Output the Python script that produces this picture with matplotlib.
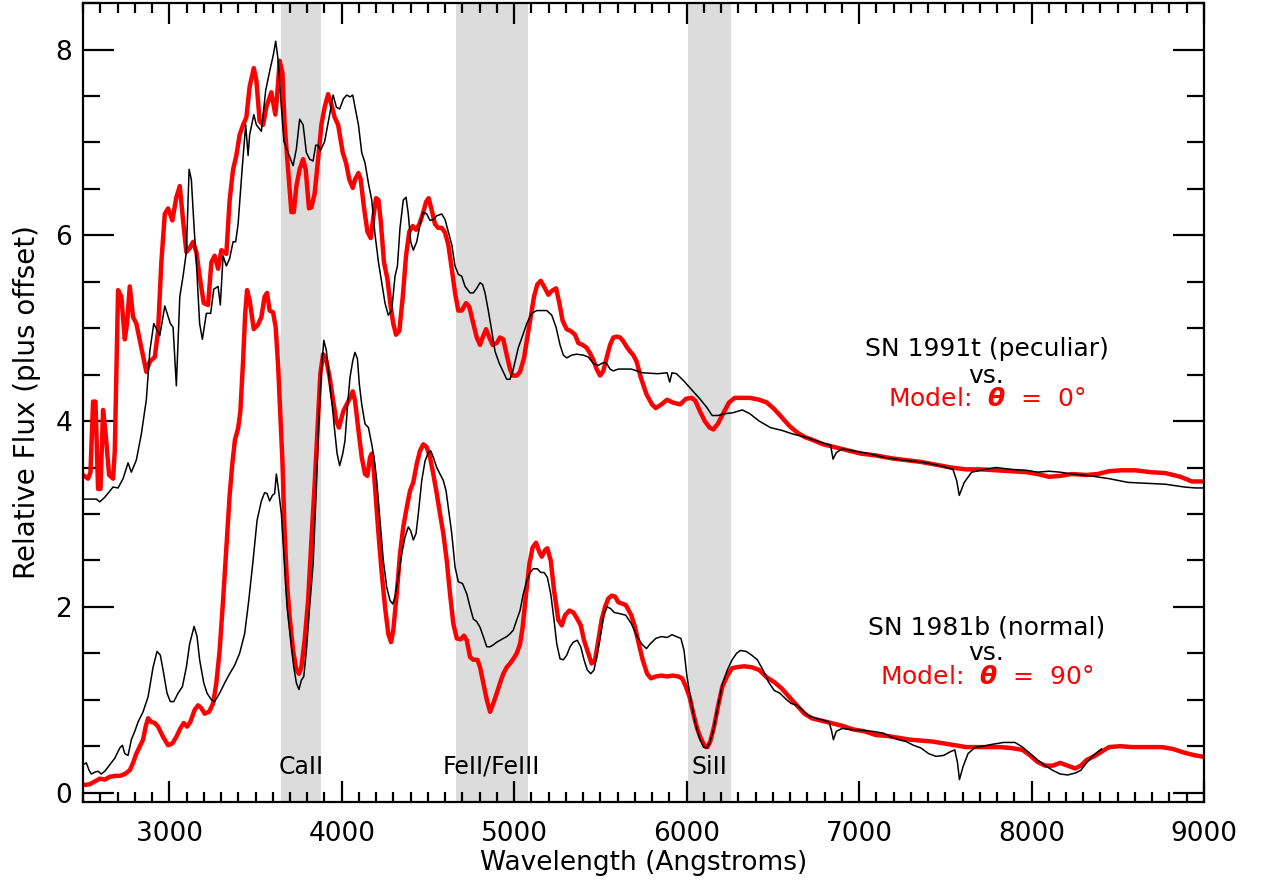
import matplotlib
matplotlib.use('agg')
import matplotlib.pyplot as plt
from matplotlib.ticker import MultipleLocator

plt.rcParams['font.family'] = ['DejaVu Sans']

# SN 1991t (peculiar) - observed spectrum, upper pair
top_obs_wl = [2500, 2577, 2597, 2626, 2674, 2703, 2732, 2761, 2780, 2809, 2838, 2867, 2887, 2910,
              2945, 2974, 3006, 3022, 3041, 3061, 3080, 3099, 3115, 3128, 3144, 3157, 3176, 3192,
              3215, 3240, 3258, 3283, 3296, 3312, 3331, 3350, 3370, 3385, 3399, 3424, 3443, 3457,
              3466, 3490, 3505, 3534, 3559, 3586, 3602, 3617, 3631, 3650, 3665, 3689, 3718, 3737,
              3756, 3776, 3795, 3814, 3834, 3849, 3863, 3876, 3901, 3930, 3950, 3969, 3988, 4010,
              4029, 4048, 4064, 4077, 4097, 4116, 4135, 4155, 4174, 4193, 4213, 4232, 4251, 4270,
              4290, 4309, 4323, 4338, 4357, 4373, 4386, 4400, 4415, 4435, 4454, 4473, 4493, 4512,
              4531, 4551, 4580, 4599, 4618, 4638, 4657, 4676, 4696, 4715, 4744, 4763, 4783, 4802,
              4817, 4831, 4850, 4870, 4889, 4914, 4937, 4957, 4976, 4995, 5024, 5049, 5073, 5102,
              5131, 5160, 5189, 5218, 5243, 5266, 5285, 5305, 5333, 5362, 5401, 5430, 5459, 5488,
              5517, 5536, 5556, 5575, 5604, 5679, 5745, 5832, 5887, 5902, 5915, 5941, 5985, 6028,
              6072, 6116, 6148, 6181, 6225, 6268, 6323, 6366, 6421, 6486, 6552, 6617, 6683, 6748,
              6814, 6835, 6849, 6868, 6901, 6966, 7054, 7141, 7250, 7359, 7468, 7544, 7566, 7581,
              7610, 7653, 7730, 7795, 7883, 7970, 8035, 8101, 8166, 8232, 8341, 8450, 8559, 8668,
              8777, 8886, 8951, 9017]
top_obs_flux = [3.16, 3.16, 3.13, 3.18, 3.29, 3.28, 3.38, 3.55, 3.45, 3.58, 3.86, 4.23, 4.75, 5.05,
                4.92, 5.24, 5.05, 5.01, 4.38, 5.34, 5.56, 5.82, 6.71, 6.60, 6.08, 5.71, 5.05, 4.88,
                5.16, 5.16, 5.42, 5.45, 5.25, 5.78, 5.67, 5.75, 5.93, 5.93, 6.12, 6.75, 7.19, 6.86,
                7.08, 7.30, 7.19, 7.12, 7.56, 7.80, 7.93, 8.09, 7.89, 7.38, 7.01, 6.89, 6.75, 6.93,
                7.25, 7.19, 6.89, 6.82, 6.80, 6.97, 6.97, 6.91, 7.01, 7.30, 7.51, 7.38, 7.36, 7.47,
                7.51, 7.49, 7.51, 7.38, 7.19, 6.89, 6.78, 6.56, 6.38, 6.01, 5.71, 5.49, 5.27, 5.14,
                5.19, 5.56, 5.67, 6.08, 6.38, 6.41, 6.23, 5.93, 5.84, 5.93, 6.12, 6.25, 6.23, 6.16,
                6.17, 6.21, 6.23, 6.17, 6.04, 5.90, 5.67, 5.58, 5.56, 5.45, 5.38, 5.38, 5.43, 5.49,
                5.47, 5.38, 5.19, 4.97, 4.75, 4.62, 4.53, 4.45, 4.45, 4.56, 4.79, 4.92, 5.05, 5.16,
                5.19, 5.19, 5.19, 5.14, 5.01, 4.82, 4.71, 4.68, 4.71, 4.72, 4.71, 4.69, 4.62, 4.60,
                4.63, 4.62, 4.56, 4.54, 4.56, 4.56, 4.52, 4.51, 4.52, 4.42, 4.52, 4.51, 4.43, 4.34,
                4.25, 4.15, 4.06, 4.06, 4.08, 4.09, 4.12, 4.08, 4.00, 3.93, 3.90, 3.86, 3.83, 3.79,
                3.75, 3.74, 3.59, 3.66, 3.70, 3.68, 3.65, 3.61, 3.58, 3.56, 3.52, 3.48, 3.36, 3.20,
                3.34, 3.45, 3.48, 3.50, 3.48, 3.47, 3.45, 3.46, 3.45, 3.43, 3.41, 3.38, 3.34, 3.33,
                3.32, 3.29, 3.28, 3.28]

# model, theta = 0 deg
top_mod_wl = [2500, 2529, 2543, 2558, 2572, 2587, 2601, 2616, 2631, 2651, 2674, 2684, 2703, 2722,
              2742, 2755, 2771, 2790, 2809, 2838, 2867, 2887, 2916, 2935, 2954, 2974, 2993, 3018,
              3041, 3061, 3080, 3099, 3118, 3138, 3157, 3176, 3200, 3225, 3244, 3263, 3283, 3302,
              3331, 3350, 3370, 3389, 3408, 3428, 3447, 3466, 3490, 3505, 3524, 3544, 3563, 3592,
              3615, 3625, 3640, 3656, 3669, 3689, 3708, 3722, 3737, 3756, 3776, 3791, 3810, 3824,
              3843, 3863, 3882, 3901, 3921, 3940, 3959, 3979, 4006, 4025, 4044, 4064, 4077, 4097,
              4110, 4129, 4149, 4168, 4183, 4199, 4213, 4226, 4245, 4265, 4284, 4299, 4315, 4334,
              4354, 4373, 4392, 4412, 4431, 4450, 4470, 4489, 4504, 4522, 4541, 4560, 4580, 4599,
              4618, 4638, 4657, 4676, 4696, 4721, 4740, 4759, 4783, 4802, 4817, 4837, 4856, 4875,
              4899, 4918, 4937, 4957, 4976, 4991, 5015, 5034, 5057, 5076, 5096, 5115, 5134, 5154,
              5173, 5198, 5217, 5243, 5262, 5281, 5304, 5328, 5353, 5372, 5397, 5420, 5440, 5459,
              5478, 5498, 5517, 5536, 5556, 5575, 5594, 5614, 5633, 5652, 5672, 5691, 5710, 5726,
              5734, 5767, 5799, 5821, 5854, 5887, 5919, 5963, 5996, 6028, 6050, 6076, 6105, 6133,
              6155, 6181, 6214, 6246, 6279, 6323, 6366, 6421, 6465, 6508, 6552, 6595, 6639, 6683,
              6726, 6792, 6857, 6923, 7010, 7097, 7185, 7272, 7359, 7446, 7533, 7621, 7708, 7795,
              7883, 7970, 8035, 8101, 8166, 8232, 8319, 8384, 8450, 8515, 8602, 8690, 8777, 8864,
              8930, 9017]
top_mod_flux = [3.42, 3.38, 3.45, 4.21, 4.21, 3.27, 3.27, 4.12, 3.86, 3.42, 3.38, 3.68, 5.41, 5.34,
                4.88, 5.05, 5.45, 5.12, 5.05, 4.79, 4.53, 4.64, 4.69, 4.97, 5.71, 6.23, 6.29, 6.16,
                6.41, 6.53, 6.16, 5.82, 5.86, 5.93, 5.82, 5.56, 5.27, 5.25, 5.71, 5.78, 5.64, 5.84,
                5.80, 6.38, 6.71, 6.86, 7.08, 7.19, 7.27, 7.60, 7.80, 7.67, 7.23, 7.19, 7.38, 7.54,
                7.30, 7.49, 7.88, 7.75, 7.19, 6.71, 6.25, 6.25, 6.53, 6.71, 6.82, 6.71, 6.29, 6.30,
                6.45, 6.82, 7.19, 7.38, 7.52, 7.41, 7.27, 7.19, 6.89, 6.78, 6.60, 6.51, 6.60, 6.67,
                6.60, 6.30, 6.04, 5.97, 6.19, 6.40, 6.38, 6.16, 5.71, 5.53, 5.23, 5.05, 4.93, 4.97,
                5.34, 5.78, 6.04, 6.10, 6.06, 6.12, 6.23, 6.36, 6.40, 6.27, 6.12, 6.08, 6.08, 6.03,
                5.90, 5.64, 5.38, 5.19, 5.19, 5.27, 5.23, 5.08, 4.90, 4.82, 4.90, 4.99, 4.90, 4.82,
                4.84, 4.90, 4.88, 4.71, 4.56, 4.49, 4.49, 4.53, 4.68, 4.90, 5.12, 5.34, 5.47, 5.51,
                5.45, 5.36, 5.40, 5.43, 5.27, 5.08, 4.99, 4.97, 4.93, 4.84, 4.82, 4.79, 4.73, 4.66,
                4.56, 4.49, 4.54, 4.68, 4.82, 4.90, 4.91, 4.90, 4.86, 4.80, 4.75, 4.71, 4.64, 4.53,
                4.47, 4.29, 4.18, 4.14, 4.18, 4.23, 4.20, 4.18, 4.24, 4.25, 4.22, 4.11, 4.00, 3.93,
                3.91, 3.97, 4.09, 4.20, 4.25, 4.25, 4.25, 4.23, 4.20, 4.13, 4.04, 3.95, 3.88, 3.83,
                3.80, 3.75, 3.72, 3.69, 3.65, 3.63, 3.60, 3.58, 3.56, 3.53, 3.50, 3.48, 3.48, 3.47,
                3.46, 3.45, 3.43, 3.40, 3.41, 3.43, 3.42, 3.43, 3.46, 3.47, 3.47, 3.45, 3.44, 3.40,
                3.35, 3.35]

# SN 1981b (normal) - observed spectrum, lower pair
bot_obs_wl = [2500, 2519, 2535, 2548, 2568, 2587, 2606, 2626, 2655, 2684, 2713, 2728, 2742, 2761,
              2780, 2800, 2819, 2848, 2877, 2906, 2929, 2948, 2964, 2987, 3006, 3026, 3051, 3076,
              3099, 3118, 3144, 3161, 3176, 3200, 3219, 3244, 3263, 3292, 3321, 3350, 3379, 3408,
              3437, 3461, 3486, 3509, 3534, 3553, 3567, 3582, 3598, 3611, 3621, 3636, 3650, 3669,
              3683, 3702, 3722, 3737, 3752, 3766, 3780, 3795, 3814, 3834, 3853, 3868, 3882, 3896,
              3911, 3930, 3946, 3959, 3973, 3988, 4006, 4019, 4033, 4048, 4064, 4077, 4091, 4102,
              4116, 4135, 4155, 4174, 4187, 4203, 4222, 4241, 4261, 4280, 4296, 4309, 4328, 4348,
              4367, 4386, 4400, 4415, 4431, 4444, 4464, 4483, 4502, 4516, 4531, 4551, 4570, 4589,
              4605, 4618, 4638, 4657, 4676, 4701, 4725, 4744, 4763, 4783, 4802, 4821, 4841, 4860,
              4879, 4899, 4918, 4937, 4957, 4976, 4995, 5015, 5034, 5053, 5073, 5092, 5111, 5134,
              5154, 5173, 5192, 5212, 5231, 5247, 5266, 5285, 5305, 5324, 5343, 5366, 5386, 5405,
              5424, 5444, 5463, 5482, 5502, 5521, 5540, 5560, 5579, 5604, 5647, 5679, 5712, 5740,
              5767, 5788, 5821, 5854, 5887, 5915, 5941, 5967, 5985, 6002, 6024, 6046, 6072, 6098,
              6116, 6133, 6155, 6181, 6207, 6236, 6264, 6290, 6312, 6345, 6377, 6410, 6443, 6475,
              6508, 6541, 6574, 6606, 6639, 6672, 6705, 6748, 6792, 6825, 6840, 6851, 6868, 6901,
              6945, 7010, 7075, 7141, 7184, 7228, 7272, 7315, 7359, 7403, 7446, 7490, 7529, 7555,
              7571, 7582, 7603, 7632, 7675, 7719, 7773, 7839, 7904, 7948, 7992, 8035, 8079, 8123,
              8166, 8210, 8253, 8286, 8319, 8352, 8384, 8406]
bot_obs_flux = [0.30, 0.32, 0.24, 0.20, 0.22, 0.23, 0.20, 0.23, 0.30, 0.37, 0.48, 0.51, 0.42, 0.40,
                0.57, 0.66, 0.76, 0.87, 1.03, 1.35, 1.52, 1.48, 1.32, 1.07, 0.98, 0.98, 1.07, 1.14,
                1.35, 1.60, 1.79, 1.68, 1.43, 1.18, 1.07, 1.00, 0.98, 1.07, 1.18, 1.28, 1.37, 1.50,
                1.71, 2.07, 2.50, 2.93, 3.14, 3.23, 3.22, 3.14, 3.20, 3.22, 3.43, 3.22, 3.00, 2.43,
                2.00, 1.68, 1.35, 1.18, 1.11, 1.21, 1.25, 1.53, 2.00, 2.46, 3.29, 4.04, 4.54, 4.87,
                4.76, 4.40, 4.15, 3.90, 3.65, 3.52, 3.65, 3.79, 4.15, 4.47, 4.65, 4.74, 4.67, 4.40,
                4.18, 3.97, 3.93, 3.75, 3.61, 3.36, 2.93, 2.50, 2.21, 2.07, 2.03, 2.11, 2.32, 2.57,
                2.75, 2.86, 2.82, 2.72, 2.79, 3.00, 3.36, 3.57, 3.66, 3.68, 3.61, 3.50, 3.43, 3.36,
                3.25, 3.07, 2.79, 2.43, 2.27, 2.25, 2.14, 2.00, 1.87, 1.84, 1.78, 1.68, 1.57, 1.57,
                1.59, 1.62, 1.64, 1.66, 1.68, 1.71, 1.75, 1.86, 1.96, 2.14, 2.28, 2.37, 2.41, 2.41,
                2.37, 2.37, 2.32, 2.14, 1.86, 1.60, 1.44, 1.43, 1.48, 1.57, 1.62, 1.64, 1.57, 1.43,
                1.32, 1.28, 1.32, 1.50, 1.71, 1.93, 2.00, 1.98, 1.94, 1.93, 1.91, 1.82, 1.68, 1.60,
                1.55, 1.60, 1.66, 1.68, 1.67, 1.70, 1.68, 1.66, 1.53, 1.25, 1.00, 0.78, 0.60, 0.49,
                0.48, 0.53, 0.67, 0.92, 1.17, 1.32, 1.43, 1.50, 1.53, 1.52, 1.48, 1.43, 1.32, 1.19,
                1.10, 1.07, 1.01, 0.96, 0.94, 0.89, 0.83, 0.80, 0.78, 0.76, 0.67, 0.57, 0.66, 0.69,
                0.68, 0.67, 0.66, 0.64, 0.60, 0.57, 0.55, 0.51, 0.48, 0.42, 0.39, 0.40, 0.44, 0.46,
                0.32, 0.14, 0.28, 0.42, 0.49, 0.50, 0.52, 0.54, 0.54, 0.49, 0.42, 0.35, 0.29, 0.24,
                0.20, 0.19, 0.21, 0.24, 0.32, 0.39, 0.44, 0.47]

# model, theta = 90 deg
bot_mod_wl = [2500, 2539, 2568, 2597, 2626, 2655, 2684, 2713, 2742, 2771, 2790, 2809, 2832, 2848,
              2863, 2877, 2896, 2916, 2935, 2964, 2993, 3018, 3041, 3064, 3084, 3103, 3122, 3147,
              3167, 3186, 3205, 3231, 3254, 3273, 3292, 3312, 3331, 3350, 3366, 3381, 3399, 3412,
              3428, 3440, 3451, 3466, 3490, 3515, 3534, 3553, 3567, 3582, 3602, 3617, 3631, 3640,
              3656, 3669, 3683, 3698, 3718, 3737, 3752, 3766, 3785, 3805, 3824, 3843, 3863, 3876,
              3892, 3911, 3930, 3950, 3969, 3984, 4010, 4029, 4048, 4064, 4077, 4097, 4116, 4135,
              4149, 4164, 4174, 4183, 4199, 4213, 4232, 4251, 4270, 4286, 4299, 4319, 4338, 4357,
              4377, 4396, 4415, 4435, 4454, 4473, 4493, 4512, 4531, 4551, 4570, 4589, 4609, 4628,
              4647, 4667, 4690, 4709, 4725, 4744, 4763, 4787, 4802, 4821, 4841, 4860, 4879, 4899,
              4918, 4937, 4957, 4976, 4995, 5015, 5034, 5049, 5069, 5088, 5107, 5127, 5146, 5160,
              5179, 5192, 5212, 5231, 5256, 5276, 5295, 5320, 5343, 5366, 5386, 5405, 5430, 5449,
              5469, 5488, 5507, 5527, 5546, 5565, 5585, 5604, 5647, 5679, 5701, 5723, 5745, 5771,
              5793, 5821, 5854, 5887, 5919, 5952, 5974, 5996, 6017, 6039, 6061, 6083, 6105, 6120,
              6137, 6159, 6181, 6207, 6236, 6264, 6290, 6334, 6377, 6421, 6465, 6508, 6552, 6595,
              6639, 6683, 6726, 6770, 6835, 6901, 6966, 7032, 7097, 7163, 7228, 7294, 7359, 7425,
              7490, 7555, 7621, 7686, 7752, 7817, 7883, 7948, 7992, 8035, 8079, 8123, 8166, 8210,
              8253, 8286, 8319, 8362, 8406, 8450, 8515, 8580, 8668, 8755, 8820, 8886, 8951, 9017]
bot_mod_flux = [0.08, 0.09, 0.12, 0.15, 0.14, 0.17, 0.18, 0.18, 0.20, 0.24, 0.32, 0.42, 0.51, 0.57,
                0.71, 0.80, 0.76, 0.75, 0.71, 0.60, 0.51, 0.53, 0.60, 0.69, 0.75, 0.71, 0.76, 0.89,
                0.94, 0.91, 0.85, 0.87, 0.96, 1.18, 1.53, 2.07, 2.64, 3.20, 3.55, 3.80, 3.92, 4.10,
                4.65, 5.15, 5.41, 5.30, 4.99, 5.04, 5.12, 5.34, 5.38, 5.19, 5.17, 5.01, 4.60, 4.22,
                3.57, 2.79, 2.25, 1.89, 1.53, 1.32, 1.28, 1.35, 1.64, 2.07, 2.71, 3.32, 4.04, 4.51,
                4.72, 4.65, 4.47, 4.22, 4.00, 3.93, 4.11, 4.18, 4.25, 4.32, 4.22, 3.90, 3.61, 3.43,
                3.41, 3.61, 3.65, 3.54, 3.14, 2.79, 2.36, 2.00, 1.71, 1.62, 1.75, 2.14, 2.57, 2.86,
                3.07, 3.25, 3.34, 3.54, 3.68, 3.75, 3.72, 3.61, 3.43, 3.22, 3.00, 2.79, 2.50, 2.14,
                1.82, 1.66, 1.65, 1.69, 1.64, 1.46, 1.43, 1.43, 1.35, 1.18, 1.00, 0.87, 0.96, 1.07,
                1.18, 1.28, 1.35, 1.39, 1.44, 1.50, 1.60, 1.78, 2.14, 2.46, 2.64, 2.69, 2.59, 2.54,
                2.61, 2.63, 2.50, 2.18, 1.86, 1.80, 1.91, 1.96, 1.94, 1.87, 1.80, 1.64, 1.50, 1.39,
                1.43, 1.64, 1.86, 2.00, 2.09, 2.12, 2.11, 2.05, 2.02, 1.91, 1.78, 1.60, 1.43, 1.28,
                1.23, 1.25, 1.26, 1.25, 1.26, 1.25, 1.23, 1.14, 1.03, 0.85, 0.69, 0.58, 0.50, 0.49,
                0.55, 0.71, 0.92, 1.14, 1.26, 1.34, 1.35, 1.36, 1.35, 1.32, 1.24, 1.19, 1.12, 1.03,
                0.94, 0.85, 0.80, 0.78, 0.75, 0.72, 0.68, 0.66, 0.62, 0.61, 0.59, 0.57, 0.56, 0.55,
                0.53, 0.51, 0.49, 0.49, 0.49, 0.49, 0.48, 0.46, 0.40, 0.33, 0.29, 0.29, 0.32, 0.29,
                0.26, 0.29, 0.35, 0.39, 0.44, 0.49, 0.50, 0.49, 0.49, 0.49, 0.47, 0.43, 0.40, 0.38]

# shaded line regions (Angstroms) and their labels
bands = [(3650, 3880), (4660, 5080), (6010, 6260)]
band_labels = ['CaII', 'FeII/FeIII', 'SiII']

fig = plt.figure(figsize=(12.68, 8.90), dpi=100)
ax = fig.add_axes([0.0655, 0.099, 0.884, 0.8975])

for (lo, hi), lab in zip(bands, band_labels):
    ax.axvspan(lo, hi, color='#dcdcdc', lw=0, zorder=0)
    ax.text((lo + hi) / 2, 0.28, lab, ha='center', va='center', fontsize=17, zorder=3)

ax.plot(top_mod_wl, top_mod_flux, color='#ff0000', lw=3.2, zorder=2)
ax.plot(bot_mod_wl, bot_mod_flux, color='#ff0000', lw=3.2, zorder=2)
ax.plot(top_obs_wl, top_obs_flux, color='black', lw=1.1, zorder=3)
ax.plot(bot_obs_wl, bot_obs_flux, color='black', lw=1.1, zorder=3)

# labels for each pair
ax.text(7740, 4.78, 'SN 1991t (peculiar)', ha='center', va='center', fontsize=18)
ax.text(7740, 4.49, 'vs.', ha='center', va='center', fontsize=18)
ax.text(7740, 4.24, r'Model:  $\mathbfit{\theta}$  =  0°', ha='center', va='center',
        fontsize=18, color='#ff0000')
ax.text(7740, 1.78, 'SN 1981b (normal)', ha='center', va='center', fontsize=18)
ax.text(7740, 1.50, 'vs.', ha='center', va='center', fontsize=18)
ax.text(7740, 1.24, r'Model:  $\mathbfit{\theta}$  =  90°', ha='center', va='center',
        fontsize=18, color='#ff0000')

ax.set_xlim(2500, 9000)
ax.set_ylim(-0.1, 8.5)
ax.xaxis.set_major_locator(MultipleLocator(1000))
ax.xaxis.set_minor_locator(MultipleLocator(100))
ax.yaxis.set_major_locator(MultipleLocator(2))
ax.yaxis.set_minor_locator(MultipleLocator(0.5))
ax.tick_params(which='both', direction='in', top=True, right=True, width=1.6, labelsize=19)
ax.tick_params(axis='x', which='major', length=15, pad=14)
ax.tick_params(axis='x', which='minor', length=7)
ax.tick_params(axis='y', which='major', length=22, pad=8)
ax.tick_params(axis='y', which='minor', length=12)
for s in ax.spines.values():
    s.set_linewidth(1.6)

ax.set_xlabel('Wavelength (Angstroms)', fontsize=19, labelpad=2)
ax.set_ylabel('Relative Flux (plus offset)', fontsize=20, labelpad=10)

fig.savefig('out.png', dpi=100)
